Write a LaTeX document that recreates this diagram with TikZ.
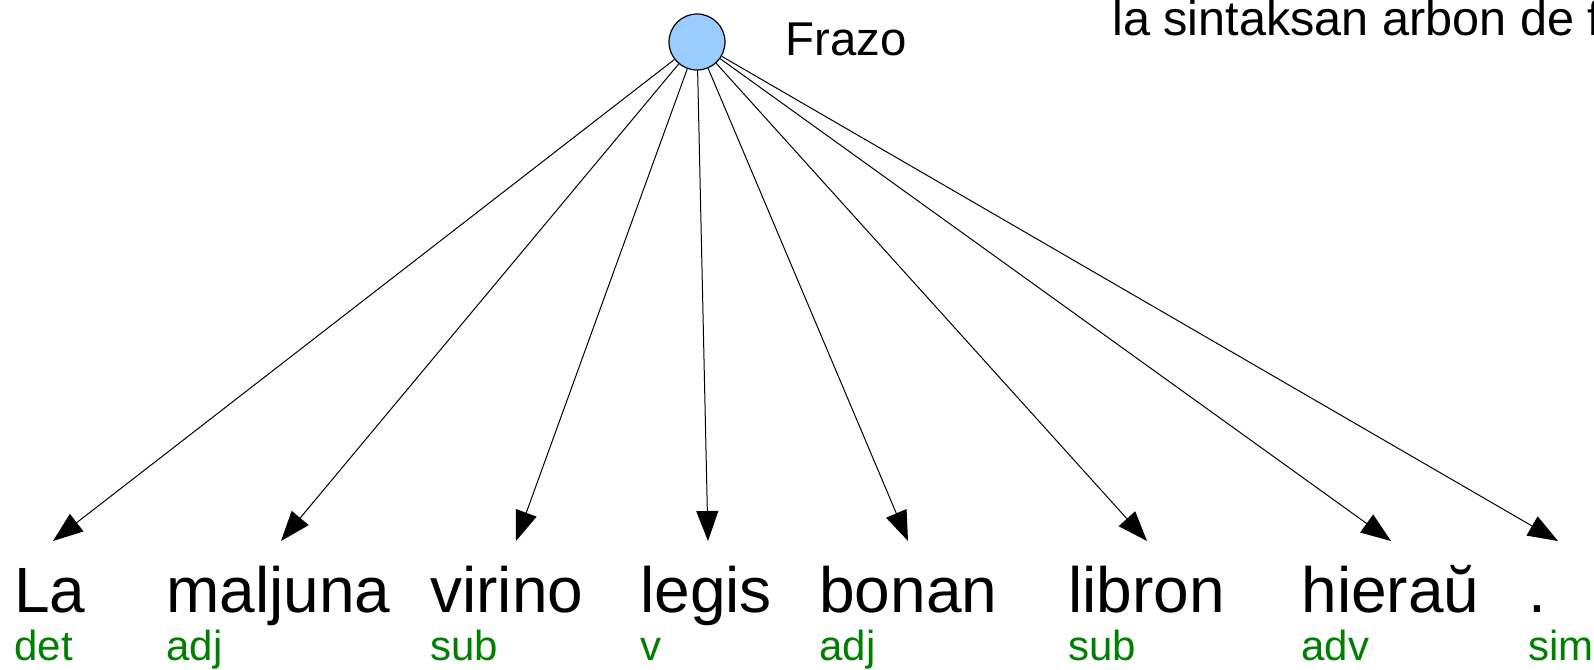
\documentclass[tikz,border=0pt]{standalone}
\usepackage{fontspec}
\setmainfont{Liberation Sans}
\usetikzlibrary{arrows.meta}
\definecolor{nodeblue}{RGB}{153,204,255}
\definecolor{taggreen}{RGB}{0,128,0}
\tikzset{
  word/.style={anchor=base west, inner sep=0pt, font=\fontsize{32}{38}\selectfont, text=black},
  tag/.style={anchor=base west, inner sep=0pt, font=\fontsize{21}{25}\selectfont, text=taggreen},
  headlbl/.style={anchor=base west, inner sep=0pt, font=\fontsize{23.7}{28}\selectfont},
  root/.style={circle, draw=black, fill=nodeblue, line width=0.6pt, minimum size=28pt, inner sep=0pt},
  edge/.style={-{Triangle[length=15pt,width=11pt]}, line width=0.5pt, draw=black},
}

\begin{document}
\begin{tikzpicture}[x=0.5pt,y=-0.5pt]
  \useasboundingbox (0,0) rectangle (1594,669);
  \clip (0,0) rectangle (1594,669);
  % sentence node
  \node[root] (frazo) at (697,42) {};
  \node[headlbl] (frazolbl) at (785,55) {Frazo};
  \node[headlbl, font=\fontsize{24.3}{29}\selectfont] (title) at (1112,35) {la sintaksan arbon de frazo};
  % words, word classes and the arrows down to them
  \foreach \n/\x/\t/\w/\c in {1/14/53/La/det, 2/166/281/maljuna/adj, 3/430/516/virino/sub,
      4/640/708/legis/v, 5/819/908/bonan/adj, 6/1068/1147/libron/sub,
      7/1301/1391/hiera\u{u}/adv, 8/1528/1558/./sim}{
    \node[word] (w\n) at (\x,612) {\w};
    \node[tag] (t\n) at (\x,660) {\c};
    \coordinate (a\n) at (\t,541);
    \draw[edge] (frazo) -- (a\n);
  }
\end{tikzpicture}
\end{document}
